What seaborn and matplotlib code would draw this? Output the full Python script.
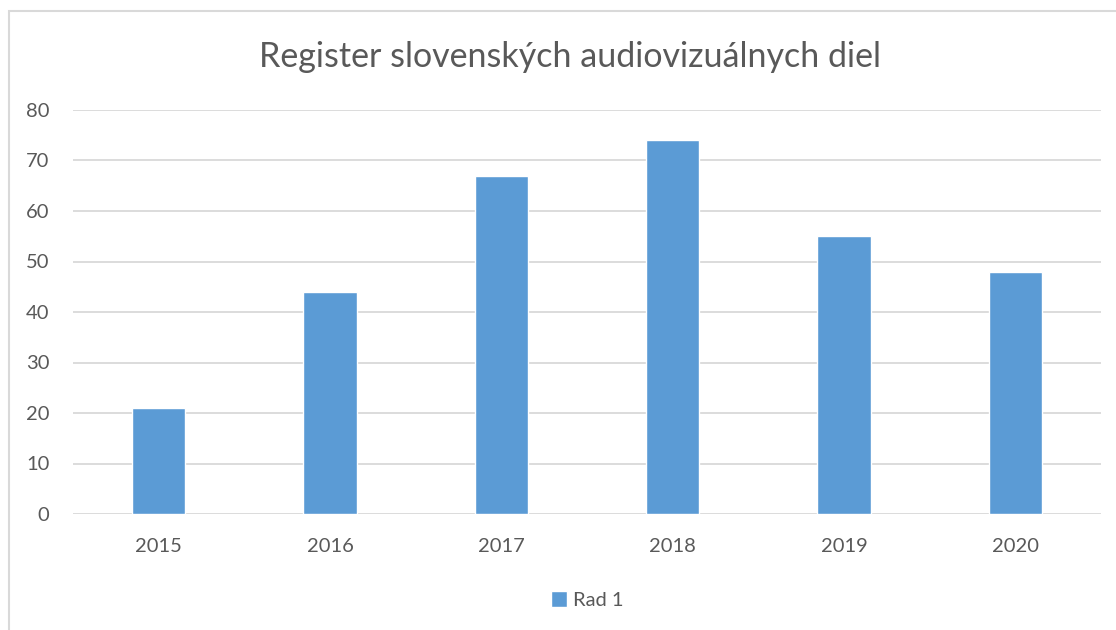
import pandas as pd
import matplotlib.pyplot as plt
import seaborn as sns
from matplotlib.patches import Rectangle

# Údaje z grafu
roky = ["2015", "2016", "2017", "2018", "2019", "2020"]
hodnoty = [21, 44, 67, 74, 55, 48]
nazov_radu = "Rad 1"
titulok = "Register slovenských audiovizuálnych diel"

df = pd.DataFrame({"rok": roky, "pocet": hodnoty, "rad": nazov_radu})

sns.set_theme(style="white")
plt.rcParams['font.family'] = ['Lato', 'DejaVu Sans']

text_color = "#595959"
grid_color = "#D9D9D9"
bar_color = "#5B9BD5"

fig = plt.figure(figsize=(11.16, 6.3), dpi=100)
ax = fig.add_axes([73 / 1116, 1 - 514 / 630, 1028 / 1116, 404 / 630])

sns.barplot(data=df, x="rok", y="pocet", hue="rad", palette=[bar_color],
            width=0.31, saturation=1, ax=ax, zorder=3)

ax.set_ylim(0, 80)
ax.set_yticks(range(0, 81, 10))
ax.set_xlim(-0.5, len(roky) - 0.5)
ax.grid(axis="y", color=grid_color, linewidth=1.3, zorder=0)
ax.set_axisbelow(True)
for s in ax.spines.values():
    s.set_visible(False)
ax.tick_params(axis="both", length=0, labelsize=14.5, labelcolor=text_color)
ax.tick_params(axis="y", pad=17)
ax.tick_params(axis="x", pad=17)
ax.set_xlabel("")
ax.set_ylabel("")

fig.text(570 / 1116, 1 - 57 / 630, titulok, ha="center", va="center",
         fontsize=24.5, color=text_color)

leg = ax.legend(loc="center", bbox_to_anchor=(0.5, (514 - 600) / 404),
                frameon=False, fontsize=14.5, handlelength=0.8, handleheight=0.8,
                handletextpad=0.3)
for t in leg.get_texts():
    t.set_color(text_color)

# rám grafu
fig.patches.append(Rectangle((9 / 1116, -0.1), 1.2, 1.1 - 11 / 630,
                             transform=fig.transFigure, fill=False,
                             edgecolor=grid_color, linewidth=1.5))

fig.savefig("out.png", dpi=100)
